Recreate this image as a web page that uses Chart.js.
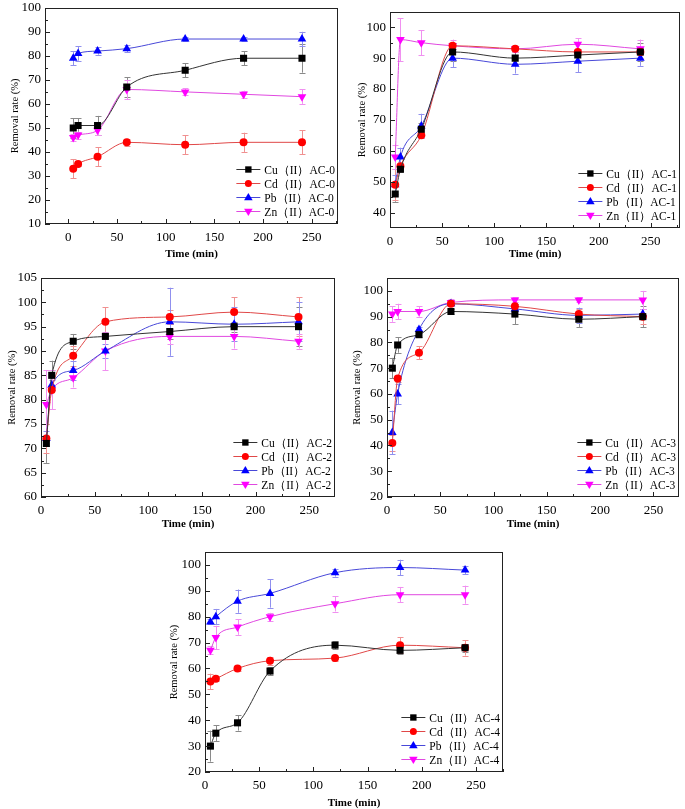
<!DOCTYPE html>
<html>
<head>
<meta charset="utf-8">
<script src="https://cdn.jsdelivr.net/npm/chart.js@4/dist/chart.umd.min.js"></script>
<style>
  body { margin: 0; background: #fff; }
  #page { position: relative; width: 685px; height: 809px; overflow: hidden; }
  canvas { position: absolute; }
</style>
</head>
<body>
<div id="page">
  <canvas id="c0" width="345" height="269" style="left:0;top:-4px"></canvas>
  <canvas id="c1" width="345" height="265" style="left:340px;top:0"></canvas>
  <canvas id="c2" width="345" height="270" style="left:0;top:265px"></canvas>
  <canvas id="c3" width="345" height="270" style="left:340px;top:265px"></canvas>
  <canvas id="c4" width="360" height="279" style="left:165px;top:535px"></canvas>
</div>
<script>
// contact time (min)
const times = [5, 10, 30, 60, 120, 180, 240];
const xTickLabels = [0, 50, 100, 150, 200, 250];

// AC-0
const cuAC0 = [50, 51, 51, 67, 74, 79, 79];
const cuAC0Err = [4, 3, 4, 4, 3, 3, 6];
const cdAC0 = [33, 35, 38, 44, 43, 44, 44];
const cdAC0Err = [4, 1, 4, 1.5, 4, 4, 5];
const pbAC0 = [79, 81, 82, 83, 87, 87, 87];
const pbAC0Err = [3, 3, 1.5, 1.5, 1, 1, 3];
const znAC0 = [46, 47, 49, 66, 65, 64, 63];
const znAC0Err = [1.5, 1.5, 2, 4, 1.5, 1.5, 3];
const yTicksAC0 = [10, 20, 30, 40, 50, 60, 70, 80, 90, 100];

// AC-1
const cuAC1 = [46, 54, 67, 92, 90, 91, 92];
const cuAC1Err = [2.5, 1, 2, 3, 2, 2, 3];
const cdAC1 = [49, 55, 65, 94, 93, 92, 92];
const cdAC1Err = [5, 1, 1, 1, 1, 1, 1];
const pbAC1 = [49, 58, 68, 90, 88, 89, 90];
const pbAC1Err = [3, 3, 4, 3, 3, 3.5, 2.5];
const znAC1 = [58, 96, 95, 94, 93, 94.5, 93];
const znAC1Err = [4, 7, 4, 2, 1, 2, 3];
const yTicksAC1 = [40, 50, 60, 70, 80, 90, 100];

// AC-2
const cuAC2 = [71, 85, 92, 93, 94, 95, 95];
const cuAC2Err = [4, 3, 1.5, 0.5, 1.5, 1, 4];
const cdAC2 = [72, 82, 89, 96, 97, 98, 97];
const cdAC2Err = [3, 4, 2, 3, 1.5, 3, 4];
const pbAC2 = [72, 83, 86, 90, 96, 95.5, 96];
const pbAC2Err = [1.5, 1, 2, 1.5, 7, 3.5, 4];
const znAC2 = [79, 82, 84.5, 90, 93, 93, 92];
const znAC2Err = [7, 4, 2, 4, 1.5, 2.5, 1.5];
const yTicksAC2 = [60, 65, 70, 75, 80, 85, 90, 95, 100, 105];

// AC-3
const cuAC3 = [70, 79, 83, 92, 91, 89, 90];
const cuAC3Err = [4, 3, 1, 1, 4, 3, 4];
const cdAC3 = [41, 66, 76, 95, 94, 91, 90];
const cdAC3Err = [3, 1.5, 2.5, 1, 1, 2, 3];
const pbAC3 = [45, 60, 85, 95, 93, 90.5, 91];
const pbAC3Err = [8.5, 4, 1, 1, 1, 3, 2];
const znAC3 = [91, 92, 92, 95.5, 96.5, 96.5, 96.5];
const znAC3Err = [3, 3, 2, 1.5, 1, 1, 3.5];
const yTicksAC3 = [20, 30, 40, 50, 60, 70, 80, 90, 100];

// AC-4
const cuAC4 = [30, 35, 39, 59, 69, 67, 68];
const cuAC4Err = [6, 3, 3, 1.5, 1.5, 1.5, 1.5];
const cdAC4 = [55, 56, 60, 63, 64, 69, 68];
const cdAC4Err = [3, 1, 1, 1.5, 1, 3, 3];
const pbAC4 = [78, 80, 86, 89, 97, 99, 98];
const pbAC4Err = [1, 3, 4.5, 5.5, 1.5, 3, 1.5];
const znAC4 = [67, 72, 76, 80, 85, 88.5, 88.5];
const znAC4Err = [1.5, 4.5, 3, 1.5, 3, 3, 3.5];
const yTicksAC4 = [20, 30, 40, 50, 60, 70, 80, 90, 100];

const metalStyle = {
  Cu: { line: "#333333", fill: "#000000", err: "#8a8a8a", shape: "rect", r: 5, rot: 0 },
  Cd: { line: "#e04848", fill: "#ff0000", err: "#f09090", shape: "circle", r: 4, rot: 0 },
  Pb: { line: "#4848d8", fill: "#0000ff", err: "#9090ee", shape: "triangle", r: 5, rot: 0 },
  Zn: { line: "#e048e0", fill: "#ff00ff", err: "#f090f0", shape: "triangle", r: 5, rot: 180 }
};

const FONT = "'Liberation Serif', 'Times New Roman', serif";

function drawMarker(ctx, shape, x, y, r, rot) {
  ctx.beginPath();
  if (shape === "rect") {
    const s = r * Math.SQRT1_2;
    ctx.rect(x - s, y - s, 2 * s, 2 * s);
  } else if (shape === "circle") {
    ctx.arc(x, y, r, 0, Math.PI * 2);
  } else {
    const d = rot ? -1 : 1;
    ctx.moveTo(x, y - d * r);
    ctx.lineTo(x + r * 0.95, y + d * r * 0.6);
    ctx.lineTo(x - r * 0.95, y + d * r * 0.6);
    ctx.closePath();
  }
  ctx.fill();
}

const errorBars = {
  id: "errorBars",
  beforeDatasetsDraw(chart) {
    const { ctx, scales: { x, y } } = chart;
    ctx.save();
    ctx.lineWidth = 1;
    chart.data.datasets.forEach((d) => {
      ctx.strokeStyle = d.errColor;
      d.data.forEach((p, i) => {
        const e = d.errors[i];
        const px = Math.round(x.getPixelForValue(p.x)) + 0.5;
        const top = y.getPixelForValue(p.y + e);
        const bot = y.getPixelForValue(p.y - e);
        ctx.beginPath();
        ctx.moveTo(px, top);
        ctx.lineTo(px, bot);
        ctx.moveTo(px - 3, Math.round(top) + 0.5);
        ctx.lineTo(px + 3, Math.round(top) + 0.5);
        ctx.moveTo(px - 3, Math.round(bot) + 0.5);
        ctx.lineTo(px + 3, Math.round(bot) + 0.5);
        ctx.stroke();
      });
    });
    ctx.restore();
  }
};

const frameTicks = {
  id: "frameTicks",
  afterDraw(chart) {
    const { ctx, chartArea: a, scales: { x, y } } = chart;
    const o = chart.options.plugins.frameTicks;
    ctx.save();
    ctx.strokeStyle = "#222";
    ctx.lineWidth = 1;
    ctx.strokeRect(Math.round(a.left) + 0.5, Math.round(a.top) + 0.5, Math.round(a.width) - 1, Math.round(a.height) - 1);
    ctx.beginPath();
    for (let v = o.xStart; v <= x.max; v += o.xStep / 2) {
      const px = Math.round(x.getPixelForValue(v)) + 0.5;
      const len = (v - o.xStart) % o.xStep === 0 ? 5 : 3;
      ctx.moveTo(px, a.bottom);
      ctx.lineTo(px, a.bottom - len);
    }
    const ys = o.yTicks;
    const step = ys[1] - ys[0];
    for (let v = ys[0]; v <= y.max + 0.01; v += step / 2) {
      const py = Math.round(y.getPixelForValue(v)) + 0.5;
      const len = Math.abs(((v - ys[0]) / step) % 1) < 0.01 ? 5 : 3;
      ctx.moveTo(a.left, py);
      ctx.lineTo(a.left + len, py);
    }
    ctx.stroke();
    ctx.restore();
  }
};

const insideLegend = {
  id: "insideLegend",
  afterDraw(chart) {
    const { ctx, chartArea: a } = chart;
    const ds = chart.data.datasets;
    ctx.save();
    ctx.font = "11.5px " + FONT;
    ctx.textBaseline = "middle";
    const textW = Math.max(...ds.map((d) => ctx.measureText(d.label).width));
    const tx = a.right - 3 - textW;
    const x0 = tx - 28;
    ds.forEach((d, i) => {
      const yy = Math.round(a.bottom - 13 - (ds.length - 1 - i) * 14) + 0.5;
      ctx.strokeStyle = d.borderColor;
      ctx.lineWidth = 1;
      ctx.beginPath();
      ctx.moveTo(x0, yy);
      ctx.lineTo(x0 + 24, yy);
      ctx.stroke();
      ctx.fillStyle = d.pointBackgroundColor;
      drawMarker(ctx, d.shape, x0 + 12, yy, d.pointRadius - 0.5, d.pointRotation);
      ctx.fillStyle = "#000";
      ctx.fillText(d.label, tx, yy + 1);
    });
    ctx.restore();
  }
};

function makePanel(id, tag, series, cfg) {
  const datasets = series.map(([metal, vals, errs]) => {
    const s = metalStyle[metal];
    return {
      label: metal + "（II）" + tag,
      data: times.map((t, i) => ({ x: t, y: vals[i] })),
      errors: errs,
      errColor: s.err,
      shape: s.shape,
      borderColor: s.line,
      borderWidth: 1,
      pointBackgroundColor: s.fill,
      pointBorderColor: s.fill,
      pointBorderWidth: 0,
      pointStyle: s.shape,
      pointRadius: s.r,
      pointRotation: s.rot,
      cubicInterpolationMode: "monotone",
      fill: false
    };
  });

  new Chart(document.getElementById(id), {
    type: "line",
    data: { datasets: datasets },
    plugins: [errorBars, frameTicks, insideLegend],
    options: {
      responsive: false,
      animation: false,
      devicePixelRatio: 1,
      layout: { padding: { top: cfg.top, right: cfg.right, left: 0, bottom: 0 } },
      plugins: {
        legend: { display: false },
        tooltip: { enabled: false },
        frameTicks: { xStart: 0, xStep: 50, yTicks: cfg.yTicks }
      },
      scales: {
        x: {
          type: "linear",
          min: cfg.xMin,
          max: cfg.xMax,
          afterBuildTicks: (s) => { s.ticks = xTickLabels.map((v) => ({ value: v })); },
          afterFit: (s) => { s.height = cfg.xh; },
          grid: { display: false, drawTicks: false },
          border: { display: false },
          ticks: { color: "#000", padding: 6, font: { family: FONT, size: 13 }, maxRotation: 0 },
          title: {
            display: true,
            text: "Time (min)",
            color: "#000",
            font: { family: FONT, size: 11, weight: "bold" },
            padding: { top: 0, bottom: 4 }
          }
        },
        y: {
          min: cfg.yMin,
          max: cfg.yMax,
          afterBuildTicks: (s) => { s.ticks = cfg.yTicks.map((v) => ({ value: v })); },
          afterFit: (s) => { s.width = cfg.yw; },
          grid: { display: false, drawTicks: false },
          border: { display: false },
          ticks: { color: "#000", padding: 4, font: { family: FONT, size: 13 } },
          title: {
            display: true,
            text: "Removal rate (%)",
            color: "#000",
            font: { family: FONT, size: 10.5 },
            padding: { top: cfg.tp, bottom: 0 }
          }
        }
      }
    }
  });
}

makePanel("c0", "AC-0", [
  ["Cu", cuAC0, cuAC0Err], ["Cd", cdAC0, cdAC0Err], ["Pb", pbAC0, pbAC0Err], ["Zn", znAC0, znAC0Err]
], { xMin: -24, xMax: 277, yMin: 10, yMax: 100, yTicks: yTicksAC0, top: 10, right: 7, yw: 45, xh: 41, tp: 9 });

makePanel("c1", "AC-1", [
  ["Cu", cuAC1, cuAC1Err], ["Cd", cdAC1, cdAC1Err], ["Pb", pbAC1, pbAC1Err], ["Zn", znAC1, znAC1Err]
], { xMin: 0, xMax: 278, yMin: 35, yMax: 105, yTicks: yTicksAC1, top: 9, right: 3, yw: 50, xh: 37, tp: 16 });

makePanel("c2", "AC-2", [
  ["Cu", cuAC2, cuAC2Err], ["Cd", cdAC2, cdAC2Err], ["Pb", pbAC2, pbAC2Err], ["Zn", znAC2, znAC2Err]
], { xMin: 0, xMax: 274, yMin: 60, yMax: 105, yTicks: yTicksAC2, top: 13, right: 10, yw: 41, xh: 38, tp: 6 });

makePanel("c3", "AC-3", [
  ["Cu", cuAC3, cuAC3Err], ["Cd", cdAC3, cdAC3Err], ["Pb", pbAC3, pbAC3Err], ["Zn", znAC3, znAC3Err]
], { xMin: 0, xMax: 274, yMin: 20, yMax: 105, yTicks: yTicksAC3, top: 13, right: 6, yw: 47, xh: 38, tp: 11 });

makePanel("c4", "AC-4", [
  ["Cu", cuAC4, cuAC4Err], ["Cd", cdAC4, cdAC4Err], ["Pb", pbAC4, pbAC4Err], ["Zn", znAC4, znAC4Err]
], { xMin: 0, xMax: 275, yMin: 20, yMax: 105, yTicks: yTicksAC4, top: 17, right: 22, yw: 40, xh: 42, tp: 3 });
</script>
</body>
</html>
